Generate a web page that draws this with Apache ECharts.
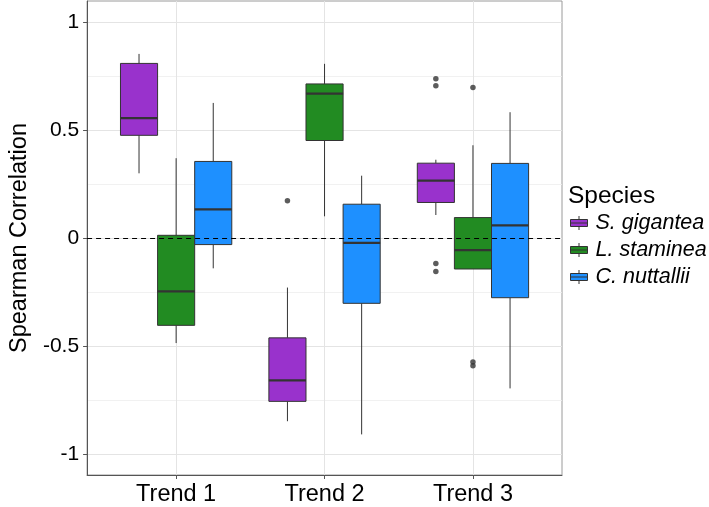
<!DOCTYPE html>
<html>
<head>
<meta charset="utf-8">
<script src="https://cdn.jsdelivr.net/npm/echarts@6/dist/echarts.min.js"></script>
<style>
html,body{margin:0;padding:0;background:#fff;}
#chart{width:709px;height:507px;}
</style>
</head>
<body>
<div id="chart"></div>
<script>
// ---- data ----
const categories = ['Trend 1', 'Trend 2', 'Trend 3'];
const species = ['S. gigantea', 'L. staminea', 'C. nuttallii'];
const speciesColors = ['#9932CC', '#228B22', '#1E90FF'];
const yTicks = [-1, -0.5, 0, 0.5, 1];
const yMinorTicks = [-0.75, -0.25, 0.25, 0.75];

// [lowerWhisker, Q1, median, Q3, upperWhisker] per trend
const giganteaBox = [
  [0.302, 0.478, 0.558, 0.811, 0.855],
  [-0.846, -0.754, -0.657, -0.460, -0.227],
  [0.109, 0.167, 0.268, 0.349, 0.365]
];
const stamineaBox = [
  [-0.484, -0.402, -0.245, 0.015, 0.372],
  [0.103, 0.454, 0.671, 0.716, 0.809],
  [-0.141, -0.141, -0.054, 0.097, 0.432]
];
const nuttalliiBox = [
  [-0.138, -0.028, 0.135, 0.357, 0.628],
  [-0.907, -0.300, -0.020, 0.159, 0.291],
  [-0.694, -0.274, 0.061, 0.348, 0.585]
];
// outliers: [trendIndex, value]
const giganteaOut = [[1, 0.175], [2, 0.740], [2, 0.707], [2, -0.116], [2, -0.153]];
const stamineaOut = [[2, 0.700], [2, -0.572], [2, -0.589]];
const nuttalliiOut = [];

const boxSets = [giganteaBox, stamineaBox, nuttalliiBox];
const outSets = [giganteaOut, stamineaOut, nuttalliiOut];

// ---- layout helpers ----
const dodge = 0.25;
const boxW = 0.25;
const FONT = '"Liberation Sans", Arial, Helvetica, sans-serif';
const KEY_ICON = 'path://M0,3.5H17V10.5H0Z M8.5,0V3.5 M8.5,10.5V14 M0,7H17';

function renderBox(params, api) {
  const x = api.value(0);
  const lo = api.coord([x, api.value(1)]);
  const q1 = api.coord([x, api.value(2)]);
  const med = api.coord([x, api.value(3)]);
  const q3 = api.coord([x, api.value(4)]);
  const hi = api.coord([x, api.value(5)]);
  const w = api.size([boxW, 0])[0];
  const cx = q1[0];
  const fill = api.visual('color');
  const stroke = '#333333';
  return {
    type: 'group',
    children: [
      { type: 'line', shape: { x1: cx, y1: q3[1], x2: cx, y2: hi[1] }, style: { stroke: stroke, lineWidth: 1 } },
      { type: 'line', shape: { x1: cx, y1: q1[1], x2: cx, y2: lo[1] }, style: { stroke: stroke, lineWidth: 1 } },
      { type: 'rect', shape: { x: cx - w / 2, y: q3[1], width: w, height: q1[1] - q3[1] }, style: { fill: fill, stroke: stroke, lineWidth: 1 } },
      { type: 'line', shape: { x1: cx - w / 2, y1: med[1], x2: cx + w / 2, y2: med[1] }, style: { stroke: stroke, lineWidth: 2.2 } }
    ]
  };
}

const series = [];
species.forEach(function (name, j) {
  const data = boxSets[j].map(function (b, i) {
    return [i + 1 + (j - 1) * dodge].concat(b);
  });
  series.push({
    name: name,
    type: 'custom',
    renderItem: renderBox,
    itemStyle: { color: speciesColors[j], borderColor: '#333', borderWidth: 1 },
    encode: { x: 0, y: [1, 2, 3, 4, 5] },
    data: data,
    z: 3
  });
  series.push({
    name: name + ' outliers',
    type: 'scatter',
    symbolSize: 5.5,
    itemStyle: { color: '#333333' },
    data: outSets[j].map(function (o) { return [o[0] + 1 + (j - 1) * dodge, o[1]]; }),
    z: 4,
    silent: true
  });
});

// gridlines and zero line as helper series
series.push({
  name: 'grid',
  type: 'line',
  data: [],
  silent: true,
  z: 0,
  markLine: {
    z: 0,
    silent: true,
    symbol: 'none',
    label: { show: false },
    animation: false,
    data: yTicks.map(function (v) { return { yAxis: v, lineStyle: { color: '#e4e4e4', width: 1, type: 'solid' } }; })
      .concat(yMinorTicks.map(function (v) { return { yAxis: v, lineStyle: { color: '#eeeeee', width: 0.8, type: 'solid' } }; }))
      .concat(categories.map(function (c, i) { return { xAxis: i + 1, lineStyle: { color: '#e4e4e4', width: 1, type: 'solid' } }; }))
  }
});
series.push({
  name: 'zero',
  type: 'line',
  data: [],
  silent: true,
  z: 5,
  markLine: {
    z: 6,
    silent: true,
    symbol: 'none',
    label: { show: false },
    animation: false,
    data: [{ yAxis: 0, lineStyle: { color: '#000', width: 1, type: [5, 4] } }]
  }
});

const chart = echarts.init(document.getElementById('chart'), null, { renderer: 'canvas' });
chart.setOption({
  animation: false,
  backgroundColor: '#ffffff',
  textStyle: { fontFamily: FONT },
  title: {
    text: 'Species',
    left: 568,
    top: 184,
    padding: 0,
    textStyle: { fontFamily: FONT, fontSize: 24.5, fontWeight: 'normal', color: '#000' }
  },
  legend: {
    data: species.map(function (s) { return { name: s, icon: KEY_ICON }; }),
    orient: 'vertical',
    left: 570,
    top: 212,
    padding: 0,
    itemWidth: 17,
    itemHeight: 14,
    itemGap: 5,
    itemStyle: { borderColor: '#333', borderWidth: 1 },
    textStyle: { fontFamily: FONT, fontSize: 21.5, fontStyle: 'italic', color: '#000', padding: [0, 0, 0, 3] }
  },
  grid: {
    left: 82,
    right: 147,
    top: 1,
    bottom: 29,
    show: true,
    borderColor: '#9a9a9a',
    borderWidth: 1,
    containLabel: false
  },
  xAxis: {
    type: 'value',
    min: 0.4,
    max: 3.6,
    splitLine: { show: false },
    axisLine: { show: true, onZero: false, lineStyle: { color: '#555', width: 1 } },
    axisTick: { show: true, length: 4, customValues: [1, 2, 3], lineStyle: { color: '#555' } },
    axisLabel: {
      customValues: [1, 2, 3],
      margin: 8,
      fontSize: 23.5,
      color: '#000',
      fontFamily: FONT,
      formatter: function (v) { return categories[Math.round(v) - 1] || ''; }
    }
  },
  yAxis: {
    type: 'value',
    min: -1.095,
    max: 1.1,
    name: 'Spearman Correlation',
    nameLocation: 'middle',
    nameGap: 54,
    nameTextStyle: { fontFamily: FONT, fontSize: 23.5, color: '#000' },
    splitLine: { show: false },
    axisLine: { show: true, onZero: false, lineStyle: { color: '#555', width: 1 } },
    axisTick: { show: true, length: 4, customValues: yTicks, lineStyle: { color: '#555' } },
    axisLabel: {
      customValues: yTicks,
      margin: 8,
      fontSize: 21,
      color: '#000',
      fontFamily: FONT,
      formatter: function (v) { return String(v); }
    }
  },
  series: series
});
</script>
</body>
</html>
